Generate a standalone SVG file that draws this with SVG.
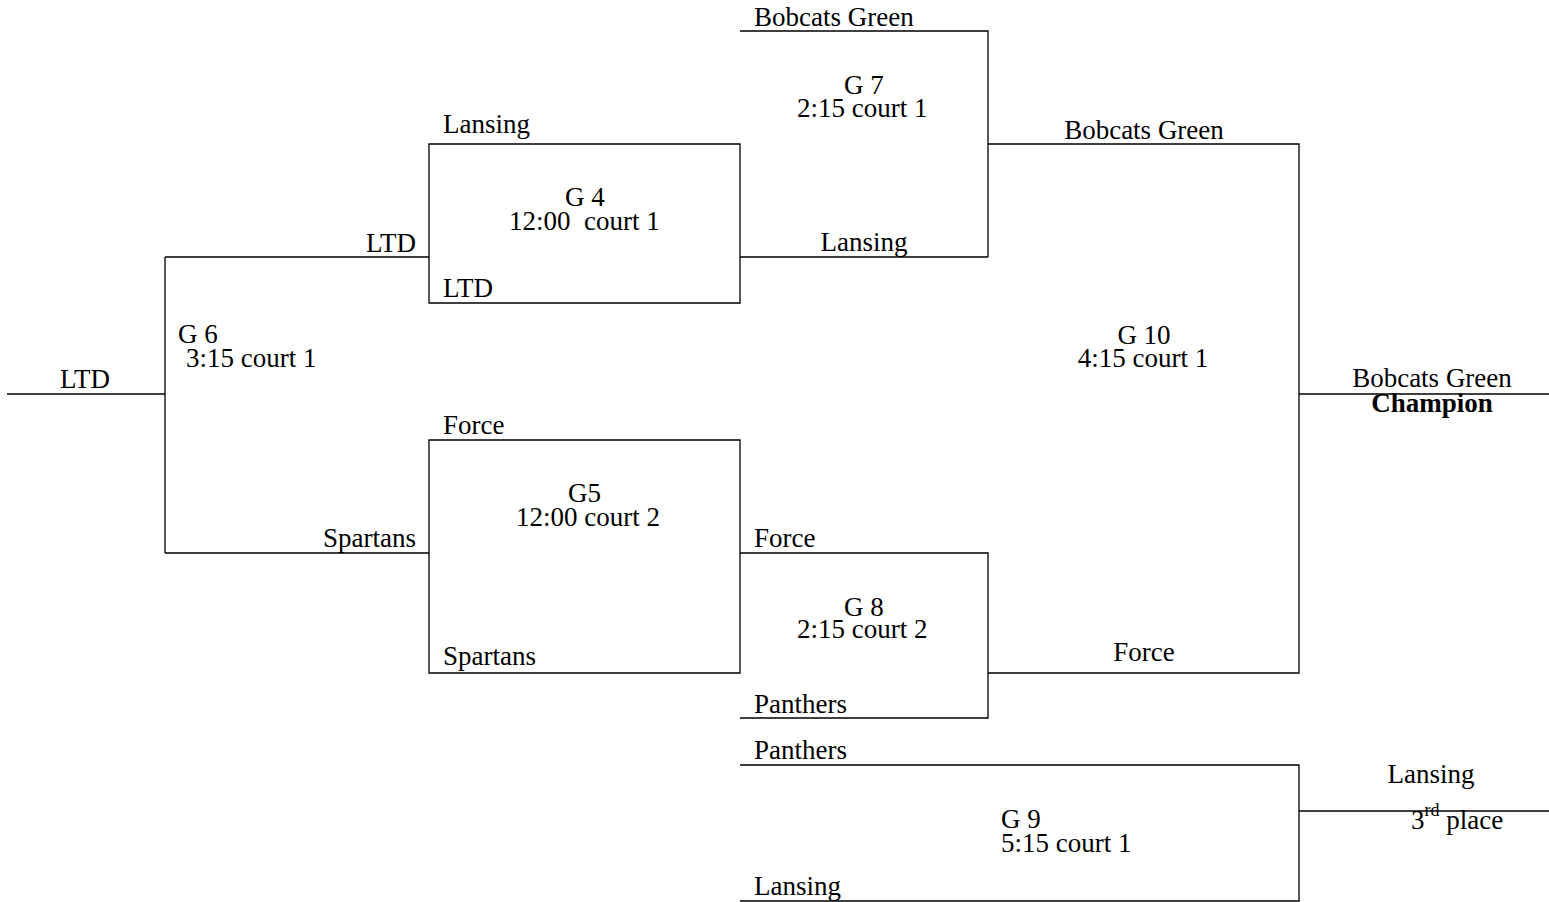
<svg xmlns="http://www.w3.org/2000/svg" width="1549" height="902" viewBox="0 0 1549 902">
<style>
  .ln { fill: none; stroke: #000; stroke-width: 1.3; }
  text { font-family: "Liberation Serif", "Times New Roman", serif; font-size: 27px; fill: #000; }
  .b { font-weight: bold; }
  .sup { font-size: 18px; }
</style>
<rect width="1549" height="902" fill="#fff"/>
<g id="connectors" class="ln">
  <path d="M7,394 H165 M165,257 V553 M165,257 H429 M165,553 H429"/>
  <path d="M429,144 H740 V303 H429 Z"/>
  <path d="M740,257 H988"/>
  <path d="M740,31 H988 V257"/>
  <path d="M988,144 H1299 V673 H988"/>
  <path d="M1299,394 H1549"/>
  <path d="M429,440 H740 V673 H429 Z"/>
  <path d="M740,553 H988 V718 H740"/>
  <path d="M740,765 H1299 V901 H740"/>
  <path d="M1299,811 H1549"/>
</g>
<g id="g6">
  <text x="60" y="388">LTD</text>
  <text x="178" y="343">G 6</text>
  <text x="186" y="367">3:15 court 1</text>
</g>
<g id="g4">
  <text x="443" y="133">Lansing</text>
  <text x="416" y="252" text-anchor="end">LTD</text>
  <text x="565" y="206">G 4</text>
  <text x="509" y="230" xml:space="preserve">12:00  court 1</text>
  <text x="443" y="297">LTD</text>
</g>
<g id="g5">
  <text x="443" y="434">Force</text>
  <text x="416" y="547" text-anchor="end">Spartans</text>
  <text x="568" y="502">G5</text>
  <text x="516" y="526">12:00 court 2</text>
  <text x="443" y="665">Spartans</text>
</g>
<g id="g7">
  <text x="754" y="26">Bobcats Green</text>
  <text x="844" y="94">G 7</text>
  <text x="797" y="117">2:15 court 1</text>
  <text x="864" y="251" text-anchor="middle">Lansing</text>
</g>
<g id="g8">
  <text x="754" y="547">Force</text>
  <text x="844" y="616">G 8</text>
  <text x="797" y="638">2:15 court 2</text>
  <text x="754" y="713">Panthers</text>
</g>
<g id="g10">
  <text x="1144" y="139" text-anchor="middle">Bobcats Green</text>
  <text x="1144" y="344" text-anchor="middle">G 10</text>
  <text x="1143" y="367" text-anchor="middle">4:15 court 1</text>
  <text x="1144" y="661" text-anchor="middle">Force</text>
</g>
<g id="champion">
  <text x="1432" y="387" text-anchor="middle">Bobcats Green</text>
  <text x="1432" y="412" text-anchor="middle" class="b">Champion</text>
</g>
<g id="g9">
  <text x="754" y="759">Panthers</text>
  <text x="1001" y="828">G 9</text>
  <text x="1001" y="852">5:15 court 1</text>
  <text x="754" y="895">Lansing</text>
</g>
<g id="third">
  <text x="1431" y="783" text-anchor="middle">Lansing</text>
  <text x="1411" y="829">3<tspan class="sup" dy="-13">rd</tspan><tspan dy="13" xml:space="preserve"> place</tspan></text>
</g>
</svg>
